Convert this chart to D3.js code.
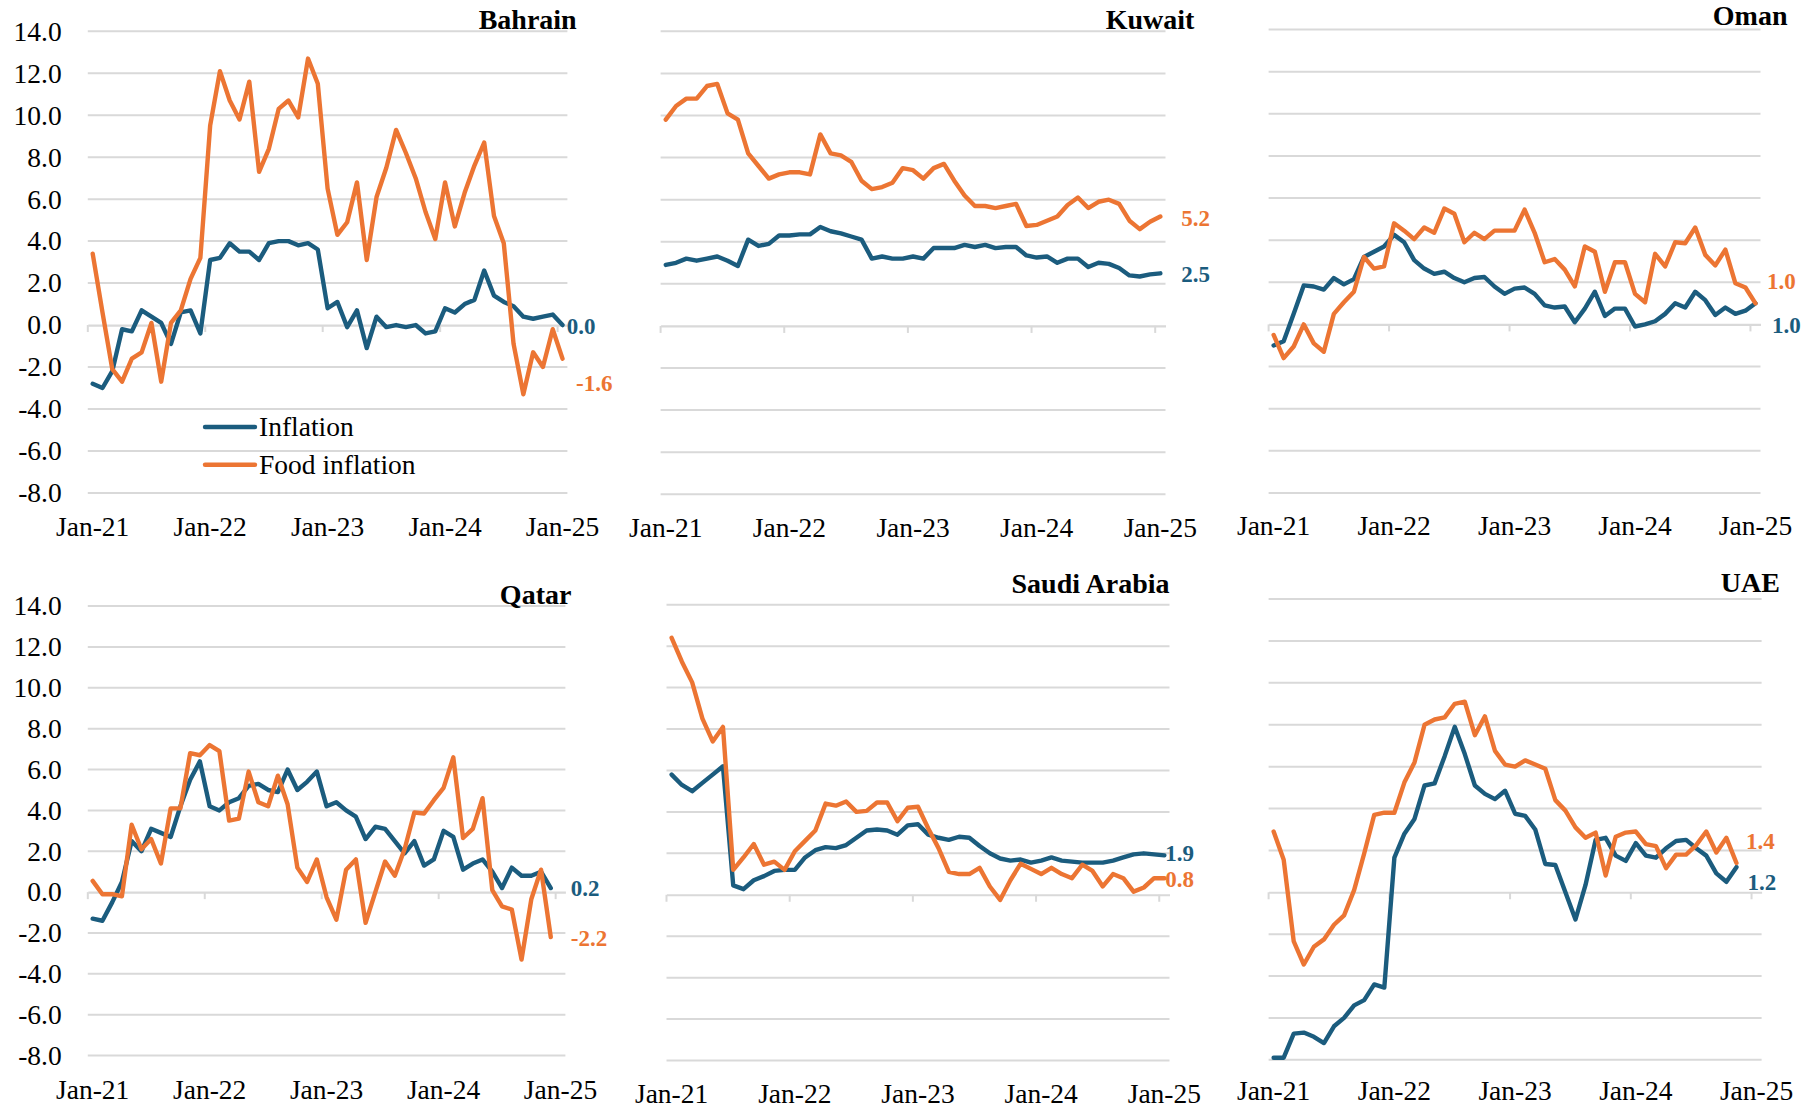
<!DOCTYPE html>
<html><head><meta charset="utf-8">
<script src="https://cdn.jsdelivr.net/npm/d3@7/dist/d3.min.js"></script>
<style>
body{margin:0;background:#fff}
svg{display:block}
text{font-family:"Liberation Serif","Times New Roman",serif;fill:#000}
</style>
</head><body>
<svg id="chart" width="1816" height="1108"></svg>
<script>
// ---------- DATA ----------
const months = ["Jan-21","Feb-21","Mar-21","Apr-21","May-21","Jun-21","Jul-21","Aug-21","Sep-21","Oct-21","Nov-21","Dec-21",
  "Jan-22","Feb-22","Mar-22","Apr-22","May-22","Jun-22","Jul-22","Aug-22","Sep-22","Oct-22","Nov-22","Dec-22",
  "Jan-23","Feb-23","Mar-23","Apr-23","May-23","Jun-23","Jul-23","Aug-23","Sep-23","Oct-23","Nov-23","Dec-23",
  "Jan-24","Feb-24","Mar-24","Apr-24","May-24","Jun-24","Jul-24","Aug-24","Sep-24","Oct-24","Nov-24","Dec-24","Jan-25"];
const xTickLabels = ["Jan-21","Jan-22","Jan-23","Jan-24","Jan-25"];
const yTicks = [-8,-6,-4,-2,0,2,4,6,8,10,12,14];
const countries = ["Bahrain","Kuwait","Oman","Qatar","Saudi Arabia","UAE"];
const seriesNames = ["Inflation","Food inflation"];

const bahrainInflation = [-2.8,-3.0,-2.2,-0.2,-0.3,0.7,0.4,0.1,-0.9,0.6,0.7,-0.4,3.1,3.2,3.9,3.5,3.5,3.1,3.9,4.0,4.0,3.8,3.9,3.6,0.8,1.1,-0.1,0.7,-1.1,0.4,-0.1,0.0,-0.1,0.0,-0.4,-0.3,0.8,0.6,1.0,1.2,2.6,1.4,1.1,0.9,0.4,0.3,0.4,0.5,0.0];
const bahrainFood = [3.4,0.6,-2.1,-2.7,-1.6,-1.3,0.1,-2.7,0.1,0.7,2.2,3.2,9.5,12.1,10.7,9.8,11.6,7.3,8.4,10.3,10.7,9.9,12.7,11.5,6.5,4.3,4.9,6.8,3.1,6.1,7.5,9.3,8.2,7.0,5.4,4.1,6.8,4.7,6.3,7.6,8.7,5.2,3.9,-0.9,-3.3,-1.3,-2.0,-0.2,-1.6];
const kuwaitInflation = [2.9,3.0,3.2,3.1,3.2,3.3,3.1,2.85,4.1,3.8,3.9,4.3,4.3,4.35,4.35,4.7,4.5,4.4,4.25,4.1,3.2,3.3,3.2,3.2,3.3,3.2,3.7,3.7,3.7,3.85,3.75,3.85,3.7,3.75,3.75,3.35,3.25,3.3,3.0,3.2,3.2,2.8,3.0,2.95,2.75,2.4,2.35,2.45,2.5];
const kuwaitFood = [9.8,10.45,10.8,10.8,11.4,11.5,10.1,9.8,8.2,7.6,7.0,7.2,7.3,7.3,7.2,9.1,8.2,8.1,7.8,6.9,6.5,6.6,6.8,7.5,7.4,7.0,7.5,7.7,6.9,6.2,5.7,5.7,5.6,5.7,5.8,4.75,4.8,5.0,5.2,5.75,6.1,5.6,5.9,6.0,5.8,5.0,4.6,4.95,5.2];
const omanInflation = [-1.0,-0.8,0.5,1.85,1.8,1.65,2.2,1.9,2.15,3.2,3.45,3.7,4.25,3.9,3.05,2.65,2.4,2.5,2.2,2.0,2.2,2.25,1.8,1.45,1.7,1.75,1.45,0.9,0.8,0.85,0.1,0.75,1.55,0.4,0.75,0.75,-0.1,0.0,0.15,0.5,1.0,0.8,1.55,1.15,0.45,0.8,0.5,0.65,1.0];
const omanFood = [-0.5,-1.6,-1.05,0.0,-0.9,-1.3,0.5,1.05,1.55,3.2,2.65,2.75,4.8,4.45,4.05,4.6,4.35,5.5,5.25,3.9,4.35,4.05,4.45,4.45,4.45,5.45,4.35,2.95,3.1,2.6,1.8,3.7,3.45,1.55,2.95,2.95,1.45,1.05,3.35,2.75,3.9,3.85,4.6,3.3,2.8,3.55,1.95,1.75,1.0];
const qatarInflation = [-1.3,-1.4,-0.5,0.5,2.5,2.0,3.1,2.9,2.7,4.2,5.5,6.4,4.2,4.0,4.4,4.6,5.2,5.3,5.0,4.9,6.0,5.0,5.4,5.9,4.2,4.4,4.0,3.7,2.6,3.2,3.1,2.5,1.9,2.5,1.3,1.6,3.0,2.7,1.1,1.4,1.6,1.0,0.2,1.2,0.8,0.8,1.0,0.2];
const qatarFood = [0.55,-0.1,-0.1,-0.2,3.3,2.1,2.6,1.4,4.1,4.1,6.8,6.7,7.2,6.9,3.5,3.6,5.9,4.4,4.2,5.7,4.3,1.2,0.5,1.6,-0.25,-1.35,1.1,1.6,-1.5,0.0,1.5,0.8,2.1,3.9,3.85,4.5,5.1,6.6,2.65,3.1,4.6,0.1,-0.7,-0.85,-3.3,-0.35,1.1,-2.2];
const saudiInflation = [5.8,5.3,5.0,5.4,5.8,6.2,0.45,0.27,0.7,0.9,1.15,1.2,1.2,1.8,2.15,2.3,2.25,2.4,2.75,3.1,3.15,3.1,2.9,3.35,3.4,2.9,2.75,2.65,2.8,2.75,2.35,2.0,1.75,1.65,1.7,1.55,1.65,1.8,1.65,1.6,1.55,1.55,1.55,1.65,1.8,1.95,2.0,1.95,1.9];
const saudiFood = [12.4,11.25,10.25,8.5,7.4,8.1,1.2,1.8,2.45,1.45,1.6,1.2,2.1,2.6,3.1,4.4,4.3,4.5,4.0,4.05,4.45,4.45,3.55,4.2,4.25,3.2,2.25,1.1,1.0,1.0,1.3,0.4,-0.25,0.7,1.5,1.25,1.0,1.3,1.0,0.8,1.45,1.15,0.4,1.0,0.8,0.15,0.35,0.8,0.8];
const uaeInflation = [-7.9,-7.9,-6.75,-6.7,-6.9,-7.2,-6.4,-6.0,-5.4,-5.15,-4.4,-4.55,1.65,2.8,3.5,5.1,5.2,6.5,7.9,6.6,5.1,4.7,4.45,4.85,3.75,3.65,3.0,1.35,1.3,0.0,-1.3,0.35,2.5,2.6,1.75,1.5,2.35,1.75,1.65,2.1,2.45,2.5,2.1,1.75,0.9,0.5,1.2];
const uaeFood = [2.9,1.55,-2.35,-3.45,-2.6,-2.25,-1.55,-1.1,0.1,1.85,3.7,3.8,3.8,5.25,6.2,8.0,8.25,8.35,9.0,9.1,7.5,8.4,6.75,6.1,6.0,6.3,6.1,5.9,4.4,3.9,3.1,2.6,2.85,0.8,2.65,2.85,2.9,2.3,2.2,1.15,1.8,1.8,2.25,2.9,1.9,2.6,1.4];

const inflationSeries = [bahrainInflation,kuwaitInflation,omanInflation,qatarInflation,saudiInflation,uaeInflation];
const foodSeries = [bahrainFood,kuwaitFood,omanFood,qatarFood,saudiFood,uaeFood];
const inflationEndLabels = ["0.0","2.5","1.0","0.2","1.9","1.2"];
const foodEndLabels = ["-1.6","5.2","1.0","-2.2","0.8","1.4"];

// ---------- LAYOUT / STYLE ----------
const COLORS = {inflation:"#1b5c7e", food:"#ec7533", grid:"#d9d9d9"};
const layout = [
  {x0:87.8, x1:567.4, yTop:31.3, yBot:492.9, titleX:576.7, titleY:29.3, xLabY:536, yLabels:true, legend:true, inf:[4.2,1], food:[13.5,24.3]},
  {x0:660.6,x1:1165.5,yTop:31.3, yBot:494.3, titleX:1194.4,titleY:28.5, xLabY:537, inf:[21,1.2], food:[21,1.5]},
  {x0:1268.6,x1:1760.5,yTop:29.5,yBot:492.9, titleX:1787.5,titleY:25, xLabY:535, inf:[16.5,22], food:[11.5,-22.5]},
  {x0:87.8, x1:565.4, yTop:606.1,yBot:1055.6,titleX:571.4, titleY:603.7,xLabY:1099, yLabels:true, inf:[20,0.6], food:[20,0.6]},
  {x0:666.5,x1:1169.5,yTop:604.7,yBot:1060.5,titleX:1169.5,titleY:593, xLabY:1103, inf:[1,-1.8], food:[1,0.6]},
  {x0:1268.6,x1:1761.6,yTop:599.1,yBot:1059.8,titleX:1779.9,titleY:591.5,xLabY:1100, inf:[11,14.6], food:[9.6,-22]}
];

const svg = d3.select("#chart");

countries.forEach((country, i) => {
  const L = layout[i];
  const g = svg.append("g");
  const x = d3.scaleBand().domain(months).range([L.x0, L.x1]).padding(0);
  const bw = x.bandwidth();
  const cx = m => x(m) + bw / 2;
  const y = d3.scaleLinear().domain([-8, 14]).range([L.yBot, L.yTop]);

  // gridlines
  g.append("g").selectAll("line").data(yTicks.filter(v => v !== 0)).join("line")
    .attr("x1", L.x0).attr("x2", L.x1)
    .attr("y1", d => y(d)).attr("y2", d => y(d))
    .attr("stroke", COLORS.grid).attr("stroke-width", 2);

  // category axis at zero
  const xAxis = d3.axisBottom(x)
    .tickValues(xTickLabels)
    .tickSize(7).tickSizeOuter(0).tickFormat("");
  const ax = g.append("g").attr("transform", `translate(0,${y(0)})`).call(xAxis);
  ax.select(".domain").attr("stroke", COLORS.grid).attr("stroke-width", 2.2);
  ax.selectAll(".tick").attr("transform", d => `translate(${x(d)},0)`);
  ax.selectAll(".tick line").attr("stroke", COLORS.grid).attr("stroke-width", 2);

  // x labels at bottom
  g.append("g").selectAll("text").data(xTickLabels).join("text")
    .attr("x", d => cx(d)).attr("y", L.xLabY)
    .attr("text-anchor", "middle").style("font-size", "27.5px")
    .text(d => d);

  // y labels
  if (L.yLabels) {
    g.append("g").selectAll("text").data(yTicks).join("text")
      .attr("x", 61.7).attr("y", d => y(d)).attr("dy", "0.34em")
      .attr("text-anchor", "end").style("font-size", "27.5px")
      .text(d => d3.format(".1f")(d).replace("−", "-"));
  }

  // lines
  const line = d3.line().x((d, k) => cx(months[k])).y(d => y(d));
  [[inflationSeries[i], COLORS.inflation], [foodSeries[i], COLORS.food]].forEach(([data, col]) => {
    g.append("path").datum(data).attr("d", line)
      .attr("fill", "none").attr("stroke", col).attr("stroke-width", 4.4)
      .attr("stroke-linejoin", "round").attr("stroke-linecap", "round");
  });

  // end labels
  const infD = inflationSeries[i], foodD = foodSeries[i];
  g.append("text")
    .attr("x", cx(months[infD.length - 1]) + L.inf[0])
    .attr("y", y(infD[infD.length - 1]) + L.inf[1]).attr("dy", "0.34em")
    .style("font-size", "23px").style("font-weight", "bold").style("fill", COLORS.inflation)
    .text(inflationEndLabels[i]);
  g.append("text")
    .attr("x", cx(months[foodD.length - 1]) + L.food[0])
    .attr("y", y(foodD[foodD.length - 1]) + L.food[1]).attr("dy", "0.34em")
    .style("font-size", "23px").style("font-weight", "bold").style("fill", COLORS.food)
    .text(foodEndLabels[i]);

  // title
  g.append("text").attr("x", L.titleX).attr("y", L.titleY)
    .attr("text-anchor", "end").style("font-size", "28px").style("font-weight", "bold")
    .text(country);

  // legend
  if (L.legend) {
    const leg = g.append("g");
    const legY = [y(-4.86), y(-6.66)];
    seriesNames.forEach((name, j) => {
      leg.append("line").attr("x1", 205).attr("x2", 255)
        .attr("y1", legY[j]).attr("y2", legY[j])
        .attr("stroke", j === 0 ? COLORS.inflation : COLORS.food)
        .attr("stroke-width", 4.4).attr("stroke-linecap", "round");
      leg.append("text").attr("x", 259).attr("y", legY[j]).attr("dy", "0.32em")
        .style("font-size", "27.5px").text(name);
    });
  }
});
</script>
</body></html>
